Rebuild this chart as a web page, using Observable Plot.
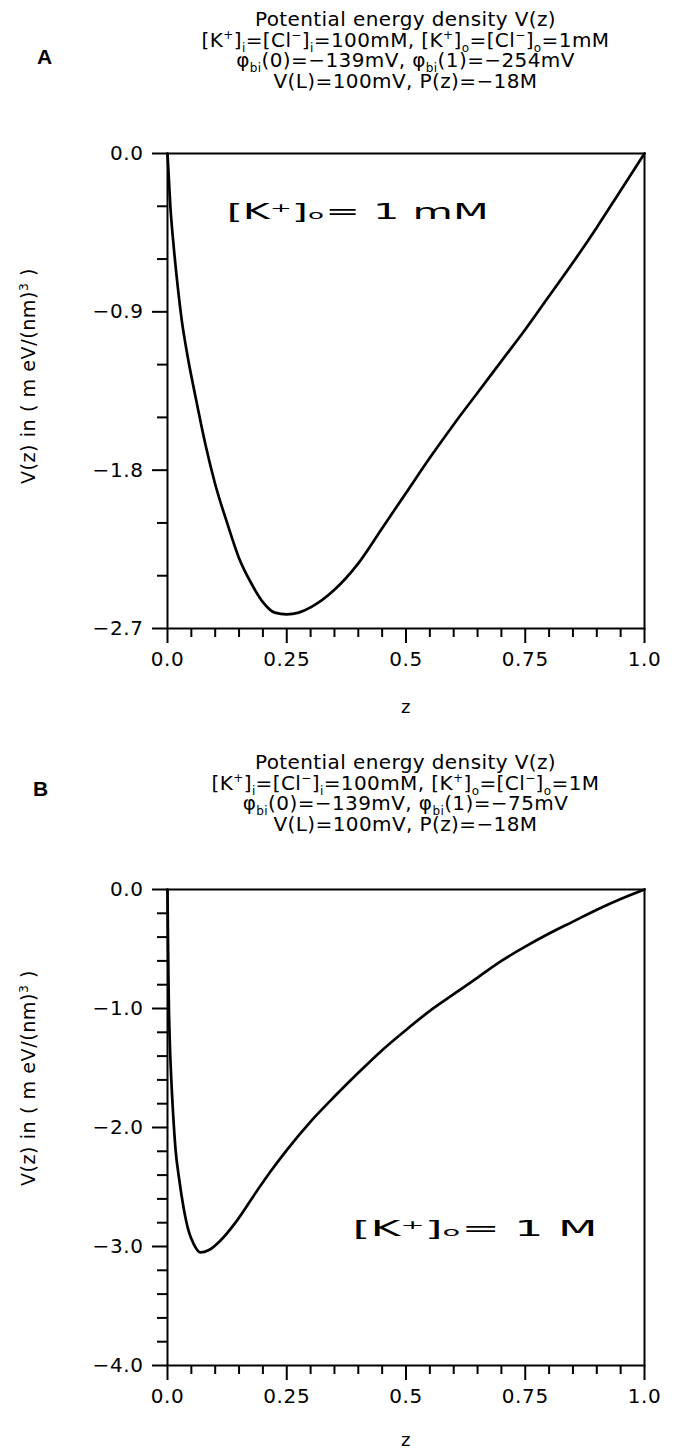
<!DOCTYPE html>
<html><head><meta charset="utf-8">
<script src="https://cdn.jsdelivr.net/npm/d3@7"></script>
<script src="https://cdn.jsdelivr.net/npm/@observablehq/plot@0.6"></script>
<style>
html,body{margin:0;padding:0;background:#fff;}
#page{position:relative;width:677px;height:1453px;overflow:hidden;background:#fff;}
.title{position:absolute;left:167px;width:477px;text-align:center;font-family:"DejaVu Sans";font-size:20px;line-height:20.5px;color:#000;letter-spacing:0.4px;white-space:nowrap;z-index:2;}
.title sub,.title sup{font-size:60%;line-height:0;}
.panel{position:absolute;font-family:"Liberation Sans";font-weight:bold;font-size:21px;line-height:24px;color:#000;z-index:2;}
.ylab{position:absolute;left:26px;transform:translate(-50%,-50%) rotate(-90deg);white-space:nowrap;font-family:"DejaVu Sans";font-size:19px;line-height:22px;letter-spacing:0.6px;color:#000;z-index:2;}
.wrap{position:absolute;left:0;}
.wrap svg text{letter-spacing:0.6px;}
</style></head>
<body><div id="page">
<div class="wrap" id="wa" style="top:0px"></div>
<div class="wrap" id="wb" style="top:740px"></div>
</div>
<script>
// ---- data ----
const zA = [0, 0.003, 0.006, 0.012, 0.02, 0.03, 0.04, 0.06, 0.08, 0.1, 0.125, 0.15, 0.175, 0.2, 0.225, 0.25, 0.275, 0.3, 0.35, 0.4, 0.45, 0.5, 0.55, 0.6, 0.65, 0.7, 0.75, 0.8, 0.85, 0.9, 0.95, 1.0];
const vA = [0, -0.15, -0.3, -0.5, -0.72, -0.95, -1.12, -1.4, -1.66, -1.88, -2.1, -2.3, -2.44, -2.55, -2.61, -2.62, -2.61, -2.58, -2.48, -2.33, -2.13, -1.93, -1.73, -1.54, -1.36, -1.18, -1.0, -0.81, -0.62, -0.42, -0.21, 0];
const zB = [0, 0.001, 0.002, 0.003, 0.005, 0.008, 0.012, 0.017, 0.024, 0.034, 0.045, 0.055, 0.069, 0.087, 0.111, 0.146, 0.188, 0.216, 0.25, 0.3, 0.35, 0.4, 0.45, 0.5, 0.55, 0.6, 0.65, 0.7, 0.75, 0.8, 0.85, 0.9, 0.95, 1.0];
const vB = [0, -0.4, -0.75, -1.0, -1.3, -1.6, -1.9, -2.19, -2.42, -2.68, -2.88, -2.98, -3.05, -3.03, -2.95, -2.78, -2.53, -2.37, -2.19, -1.95, -1.74, -1.54, -1.35, -1.18, -1.02, -0.88, -0.74, -0.6, -0.48, -0.37, -0.27, -0.17, -0.08, 0];

const xMajorTicks = [0, 0.25, 0.5, 0.75, 1.0];
const xMajorLabels = ["0.0", "0.25", "0.5", "0.75", "1.0"];
const xMinorTicks = [0.05, 0.1, 0.15, 0.2, 0.3, 0.35, 0.4, 0.45, 0.55, 0.6, 0.65, 0.7, 0.8, 0.85, 0.9, 0.95];

const yMajorA = [0, -0.9, -1.8, -2.7];
const yLabelsA = ["0.0", "−0.9", "−1.8", "−2.7"];
const yMinorA = [-0.3, -0.6, -1.2, -1.5, -2.1, -2.4];

const yMajorB = [0, -1, -2, -3, -4];
const yLabelsB = ["0.0", "−1.0", "−2.0", "−3.0", "−4.0"];
const yMinorB = [-0.2, -0.4, -0.6, -0.8, -1.2, -1.4, -1.6, -1.8, -2.2, -2.4, -2.6, -2.8, -3.2, -3.4, -3.6, -3.8];

const yAxisTitle = "V(z) in ( m eV/(nm)³ )";
const xAxisTitle = "z";

const titleA = [
  "Potential energy density V(z)",
  "[K<sup>+</sup>]<sub>i</sub>=[Cl<sup>−</sup>]<sub>i</sub>=100mM, [K<sup>+</sup>]<sub>o</sub>=[Cl<sup>−</sup>]<sub>o</sub>=1mM",
  "φ<sub>bi</sub>(0)=−139mV, φ<sub>bi</sub>(1)=−254mV",
  "V(L)=100mV, P(z)=−18M"
];
const titleB = [
  "Potential energy density V(z)",
  "[K<sup>+</sup>]<sub>i</sub>=[Cl<sup>−</sup>]<sub>i</sub>=100mM, [K<sup>+</sup>]<sub>o</sub>=[Cl<sup>−</sup>]<sub>o</sub>=1M",
  "φ<sub>bi</sub>(0)=−139mV, φ<sub>bi</sub>(1)=−75mV",
  "V(L)=100mV, P(z)=−18M"
];
const noteA = {z: 0.124, V: -0.335, t: "[K⁺]ₒ= 1 mM"};
const noteB = {z: 0.388, V: -2.85, t: "[K⁺]ₒ= 1 M"};

// ---- build ----
function makeChart(cfg) {
  const data = cfg.z.map((z, i) => ({z, V: cfg.v[i]}));
  const yMap = new Map(cfg.yMajor.map((d, i) => [d, cfg.yLabels[i]]));
  const xMap = new Map(xMajorTicks.map((d, i) => [d, xMajorLabels[i]]));
  const svg = Plot.plot({
    width: 677,
    height: cfg.height,
    marginLeft: 167,
    marginRight: 33,
    marginTop: cfg.mt,
    marginBottom: cfg.mb,
    x: {domain: [0, 1]},
    y: {domain: cfg.yDomain},
    style: {fontFamily: "DejaVu Sans", fontSize: "20px", color: "black", background: "white"},
    marks: [
      Plot.frame({stroke: "black", strokeWidth: 2}),
      Plot.axisX(xMinorTicks, {tickSize: 9, tickFormat: () => "", strokeWidth: 2, label: null}),
      Plot.axisX(xMajorTicks, {tickSize: 15, tickPadding: 8, tickFormat: d => xMap.get(d), strokeWidth: 2, label: null}),
      Plot.axisY(cfg.yMinor, {tickSize: 10, tickFormat: () => "", strokeWidth: 2, label: null}),
      Plot.axisY(cfg.yMajor, {tickSize: 15, tickPadding: 9, tickFormat: d => yMap.get(d), strokeWidth: 2, label: null}),
      Plot.line(data, {x: "z", y: "V", stroke: "black", strokeWidth: 2.7, curve: "monotone-x"}),
      Plot.text([cfg.note], {x: "z", y: "V", text: "t", textAnchor: "start", fontSize: 22, fontFamily: "DejaVu Sans"}),
      Plot.text([xAxisTitle], {frameAnchor: "bottom", dy: cfg.xlabDy, fontSize: 18})
    ]
  });
  svg.querySelectorAll("text").forEach(t => {
    if (t.textContent.startsWith("[K")) {
      t.setAttribute("textLength", cfg.noteLen);
      t.setAttribute("lengthAdjust", "spacingAndGlyphs");
      t.style.letterSpacing = "0px";
    }
  });
  return svg;
}

document.getElementById("wa").appendChild(makeChart({
  z: zA, v: vA, height: 740, mt: 153, mb: 112, yDomain: [-2.7, 0],
  yMajor: yMajorA, yLabels: yLabelsA, yMinor: yMinorA, note: noteA, noteLen: 262,
  xlabDy: 84
}));
document.getElementById("wb").appendChild(makeChart({
  z: zB, v: vB, height: 713, mt: 149, mb: 88, yDomain: [-4, 0],
  yMajor: yMajorB, yLabels: yLabelsB, yMinor: yMinorB, note: noteB, noteLen: 245,
  xlabDy: 80
}));

const page = document.getElementById("page");
function addDiv(cls, html, style) {
  const d = document.createElement("div");
  d.className = cls;
  Object.assign(d.style, style);
  d.innerHTML = html;
  page.appendChild(d);
}
addDiv("title", titleA.join("<br>"), {top: "9px"});
addDiv("title", titleB.join("<br>"), {top: "752px"});
addDiv("panel", "A", {left: "37px", top: "45px"});
addDiv("panel", "B", {left: "33px", top: "777px"});
addDiv("ylab", yAxisTitle.replace("³", "<sup style='font-size:65%'>3</sup>"), {top: "376px"});
addDiv("ylab", yAxisTitle.replace("³", "<sup style='font-size:65%'>3</sup>"), {top: "1078px"});
</script>
</body></html>
